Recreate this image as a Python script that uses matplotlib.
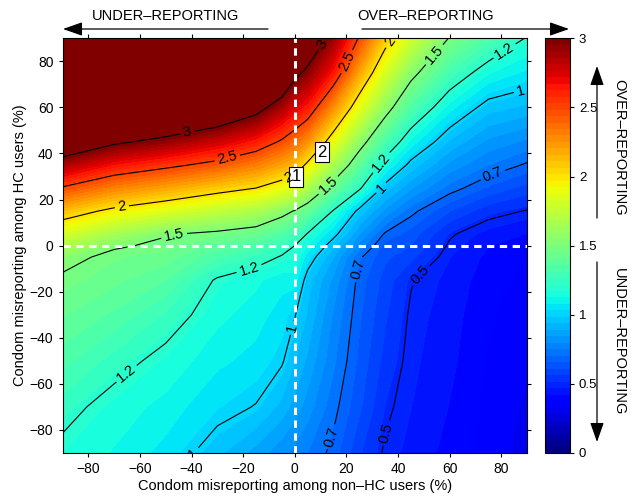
import numpy as np
import matplotlib
matplotlib.use('Agg')
import matplotlib.pyplot as plt
from matplotlib.colors import Normalize
from matplotlib.cm import ScalarMappable

plt.rcParams['font.family'] = ['Liberation Sans', 'DejaVu Sans']

# Grid nodes (% misreporting) and values
x_nonhc = [-90, -70, -50, -30, -15, -5, 0, 5, 15, 25, 35, 45, 60, 75, 90]
y_hc = [-90, -70, -50, -30, -15, -5, 0, 5, 15, 25, 35, 45, 60, 75, 90]

z_ym90 = [1.17, 1.12, 1.06, 0.95, 0.87, 0.81, 0.78, 0.75, 0.68, 0.57, 0.49, 0.455, 0.405, 0.35, 0.31]
z_ym70 = [1.24, 1.155, 1.107, 1.035, 0.995, 0.92, 0.87, 0.82, 0.72, 0.62, 0.515, 0.47, 0.42, 0.36, 0.32]
z_ym50 = [1.33, 1.245, 1.163, 1.09, 1.06, 1.01, 0.94, 0.88, 0.76, 0.645, 0.545, 0.48, 0.435, 0.37, 0.335]
z_ym30 = [1.41, 1.35, 1.26, 1.14, 1.10, 1.055, 1.005, 0.93, 0.79, 0.665, 0.57, 0.49, 0.445, 0.38, 0.345]
z_ym15 = [1.475, 1.42, 1.36, 1.185, 1.135, 1.095, 1.10, 0.96, 0.83, 0.68, 0.59, 0.505, 0.455, 0.395, 0.36]
z_ym5 = [1.55, 1.46, 1.43, 1.32, 1.25, 1.19, 1.17, 1.05, 0.89, 0.71, 0.62, 0.575, 0.47, 0.41, 0.375]
z_y0 = [1.68, 1.52, 1.47, 1.39, 1.335, 1.25, 1.2, 1.12, 0.95, 0.78, 0.64, 0.61, 0.49, 0.425, 0.39]
z_y5 = [1.82, 1.65, 1.51, 1.465, 1.42, 1.34, 1.3, 1.19, 1.03, 0.845, 0.69, 0.635, 0.51, 0.45, 0.42]
z_y15 = [2.11, 1.95, 1.85, 1.745, 1.67, 1.555, 1.49, 1.41, 1.19, 0.97, 0.83, 0.72, 0.61, 0.53, 0.495]
z_y25 = [2.48, 2.3, 2.19, 2.075, 2.0, 1.9, 1.83, 1.67, 1.43, 1.22, 0.965, 0.85, 0.73, 0.647, 0.59]
z_y35 = [2.86, 2.66, 2.55, 2.435, 2.31, 2.19, 2.125, 1.96, 1.66, 1.39, 1.14, 0.97, 0.83, 0.75, 0.69]
z_y45 = [3.26, 3.04, 2.92, 2.77, 2.63, 2.47, 2.375, 2.25, 1.89, 1.57, 1.32, 1.11, 0.93, 0.83, 0.785]
z_y60 = [3.85, 3.6, 3.45, 3.3, 3.1, 2.87, 2.73, 2.63, 2.26, 1.88, 1.57, 1.34, 1.1, 0.96, 0.925]
z_y75 = [4.45, 4.2, 4.0, 3.9, 3.7, 3.3, 3.07, 2.94, 2.64, 2.19, 1.82, 1.55, 1.3, 1.13, 1.065]
z_y90 = [5.05, 4.8, 4.6, 4.5, 4.3, 3.8, 3.45, 3.25, 2.9, 2.48, 2.08, 1.8, 1.49, 1.34, 1.19]

contour_levels = [0.5, 0.7, 1, 1.2, 1.5, 2, 2.5, 3]
cbar_ticks = [0, 0.5, 1, 1.5, 2, 2.5, 3]
xticks = [-80, -60, -40, -20, 0, 20, 40, 60, 80]
yticks = [-80, -60, -40, -20, 0, 20, 40, 60, 80]
point_labels = ['1', '2']
point_x = [0.6, 10.6]
point_y = [30, 40.6]

Z = np.array([z_ym90, z_ym70, z_ym50, z_ym30, z_ym15, z_ym5, z_y0, z_y5,
              z_y15, z_y25, z_y35, z_y45, z_y60, z_y75, z_y90])
X, Y = np.meshgrid(x_nonhc, y_hc)

cmap = plt.get_cmap('jet', 64)
norm = Normalize(vmin=0, vmax=3)

fig = plt.figure(figsize=(6.32, 4.98), dpi=100)
ax = fig.add_axes([0.0989, 0.0904, 0.735, 0.8327])
cax = fig.add_axes([0.862, 0.0904, 0.0396, 0.8327])

fill_levels = np.linspace(0, 3, 65)
ax.contourf(X, Y, Z, levels=fill_levels, cmap=cmap, norm=norm, extend='max')
cs = ax.contour(X, Y, Z, levels=contour_levels, colors='k', linewidths=0.8)

label_pos = [(-41.7, 49.1), (-26, 37.4), (-67, 17), (-2.3, 29.6), (-46.7, 4.3),
             (-17.8, -9.6), (-65.6, -55), (-41.7, -89), (0, -36),
             (10.8, 87.4), (20, 80), (37.5, 88), (54, 83), (81, 85), (87.6, 67),
             (13.5, 25.6), (33.6, 36), (34.4, 24.3), (77, 30), (25, -10.4),
             (14.3, -83), (47, -11), (34.4, -81)]
ax.clabel(cs, inline=True, fmt=lambda v: f'{v:g}', fontsize=10.5,
          manual=label_pos, inline_spacing=3)

ax.axvline(0, color='white', lw=2.2, ls=(0, (2.4, 1.8)))
ax.axhline(0, color='white', lw=2.2, ls=(0, (2.4, 1.8)))

for lab, px, py in zip(point_labels, point_x, point_y):
    ax.text(px, py, lab, ha='center', va='center', fontsize=12,
            bbox=dict(boxstyle='square,pad=0.15', fc='white', ec='black', lw=0.8))

ax.set_xlim(-90, 90)
ax.set_ylim(-90, 90)
ax.set_xticks(xticks)
ax.set_yticks(yticks)
ax.tick_params(direction='out', length=3, width=0.8, top=True, right=True,
               labelsize=10)
for s in ax.spines.values():
    s.set_linewidth(0.8)
ax.set_xlabel('Condom misreporting among non\u2013HC users (%)', fontsize=10.5, labelpad=2)
ax.set_ylabel('Condom misreporting among HC users (%)', fontsize=10.5, labelpad=2)

sm = ScalarMappable(norm=norm, cmap=cmap)
cb = fig.colorbar(sm, cax=cax, ticks=cbar_ticks)
cb.ax.set_yticklabels([f'{t:g}' for t in cbar_ticks])
cb.ax.tick_params(direction='out', length=3, width=0.8, labelsize=9.5)
cb.outline.set_linewidth(0.8)

# Top annotations
fig.text(166 / 632, 1 - 16 / 498, 'UNDER\u2013REPORTING', ha='center', va='center', fontsize=10.5)
fig.text(426 / 632, 1 - 16 / 498, 'OVER\u2013REPORTING', ha='center', va='center', fontsize=10.5)
arrow_kw = dict(arrowstyle='-|>,head_length=0.85,head_width=0.3', lw=0.9, color='k',
                shrinkA=0, shrinkB=0)
fig.add_artist(matplotlib.patches.FancyArrowPatch(
    (268 / 632, 1 - 29 / 498), (63 / 632, 1 - 29 / 498), transform=fig.transFigure,
    mutation_scale=14, **arrow_kw))
fig.add_artist(matplotlib.patches.FancyArrowPatch(
    (362 / 632, 1 - 29 / 498), (569 / 632, 1 - 29 / 498), transform=fig.transFigure,
    mutation_scale=14, **arrow_kw))

# Right annotations
fig.text(619 / 632, 1 - 147 / 498, 'OVER\u2013REPORTING', ha='center', va='center',
         rotation=-90, fontsize=10.5)
fig.text(619 / 632, 1 - 342 / 498, 'UNDER\u2013REPORTING', ha='center', va='center',
         rotation=-90, fontsize=10.5)
fig.add_artist(matplotlib.patches.FancyArrowPatch(
    (597 / 632, 1 - 218 / 498), (597 / 632, 1 - 66 / 498), transform=fig.transFigure,
    mutation_scale=14, **arrow_kw))
fig.add_artist(matplotlib.patches.FancyArrowPatch(
    (597 / 632, 1 - 262 / 498), (597 / 632, 1 - 442 / 498), transform=fig.transFigure,
    mutation_scale=14, **arrow_kw))

fig.savefig('out.png', dpi=100)
